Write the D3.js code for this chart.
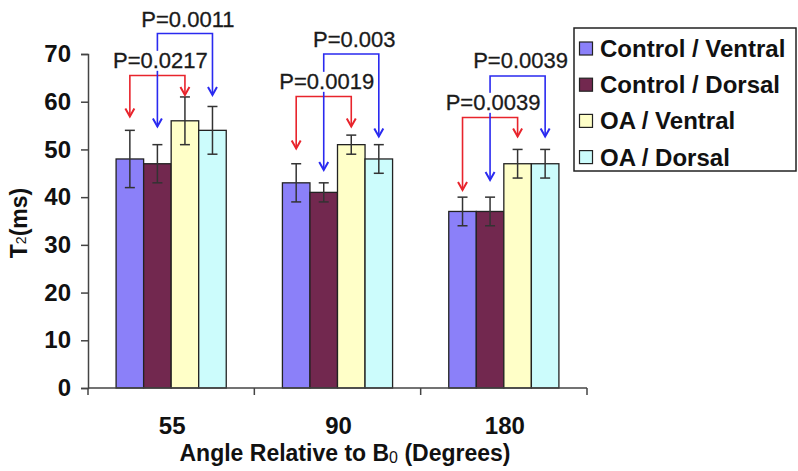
<!DOCTYPE html>
<html>
<head>
<meta charset="utf-8">
<script src="https://cdn.jsdelivr.net/npm/d3@7"></script>
<style>
  body { margin: 0; background: #fff; }
  svg { display: block; font-family: "Liberation Sans", Arial, sans-serif; }
</style>
</head>
<body>
<svg id="chart" width="798" height="471"></svg>
<script>
var width = 798;
var height = 471;

// data
var angles = ["55", "90", "180"];
var series = ["Control / Ventral", "Control / Dorsal", "OA / Ventral", "OA / Dorsal"];
var colors = ["#8b80f9", "#72284f", "#ffffc8", "#ccfcfc"];
var means = [
  [48, 47, 56, 54],
  [43, 41, 51, 48],
  [37, 37, 47, 47]
];
var errs = [
  [6, 4, 5, 5],
  [4, 2, 2, 3],
  [3, 3, 3, 3]
];
var yTicks = [0, 10, 20, 30, 40, 50, 60, 70];

// significance brackets: angle, from series, to series, bracket level, arrow tips, label level (in T2 units)
var pAngle = ["55", "55", "90", "90", "180", "180"];
var pFrom = [0, 1, 0, 1, 0, 1];
var pTo = [2, 3, 2, 3, 2, 3];
var pLevel = [65.5, 74.3, 61.1, 70, 56.7, 65.4];
var pTipFrom = [56.9, 54.8, 50.2, 45.7, 41.5, 43.6];
var pTipTo = [61.4, 61.4, 54.8, 52.7, 52.7, 52.7];
var pLabelLevel = [67.1, 75.7, 62.7, 71.5, 58.3, 67];
var pText = ["P=0.0217", "P=0.0011", "P=0.0019", "P=0.003", "P=0.0039", "P=0.0039"];
var pColor = ["#e8242c", "#2a2af0", "#e8242c", "#2a2af0", "#e8242c", "#2a2af0"];

var margin = { top: 54, right: 211, bottom: 83, left: 88 };

var svg = d3.select("#chart");

var x = d3.scaleBand()
  .domain(angles)
  .range([margin.left, width - margin.right]);

var xs = d3.scaleBand()
  .domain(d3.range(series.length))
  .range([0, x.bandwidth()])
  .paddingOuter(1.02);

var y = d3.scaleLinear()
  .domain([0, 70])
  .range([height - margin.bottom, margin.top]);

// y axis
var yAxis = svg.append("g")
  .attr("transform", "translate(" + margin.left + ",0)")
  .call(d3.axisLeft(y).tickValues(yTicks).tickSize(7).tickPadding(10));
yAxis.select(".domain").attr("stroke", "#444").attr("stroke-width", 1.5);
yAxis.selectAll(".tick line").attr("stroke", "#444").attr("stroke-width", 1.5);
yAxis.selectAll(".tick text")
  .attr("font-size", 24)
  .attr("font-weight", "bold")
  .attr("font-family", "Liberation Sans, Arial, sans-serif")
  .attr("fill", "#111");

// bars
var groups = svg.selectAll(".grp")
  .data(angles)
  .enter().append("g")
  .attr("class", "grp")
  .attr("transform", function(d) { return "translate(" + x(d) + ",0)"; });

groups.each(function(a, gi) {
  var g = d3.select(this);
  g.selectAll("rect")
    .data(means[gi])
    .enter().append("rect")
    .attr("x", function(d, i) { return xs(i); })
    .attr("y", function(d) { return y(d); })
    .attr("width", xs.bandwidth())
    .attr("height", function(d) { return y(0) - y(d); })
    .attr("fill", function(d, i) { return colors[i]; })
    .attr("stroke", "#222")
    .attr("stroke-width", 1.3);

  // error bars
  for (var i = 0; i < means[gi].length; i++) {
    var cx = xs(i) + xs.bandwidth() / 2;
    var hi = y(means[gi][i] + errs[gi][i]);
    var lo = y(means[gi][i] - errs[gi][i]);
    var eb = g.append("g").attr("stroke", "#333").attr("stroke-width", 1.5);
    eb.append("line").attr("x1", cx).attr("x2", cx).attr("y1", hi).attr("y2", lo);
    eb.append("line").attr("x1", cx - 5).attr("x2", cx + 5).attr("y1", hi).attr("y2", hi);
    eb.append("line").attr("x1", cx - 5).attr("x2", cx + 5).attr("y1", lo).attr("y2", lo);
  }
});

// x axis
var xAxisY = y(0);
svg.append("line")
  .attr("x1", margin.left).attr("x2", width - margin.right)
  .attr("y1", xAxisY).attr("y2", xAxisY)
  .attr("stroke", "#444").attr("stroke-width", 1.5);
var bounds = angles.map(function(d) { return x(d); }).concat([x.range()[1]]);
svg.selectAll(".xtick")
  .data(bounds)
  .enter().append("line")
  .attr("class", "xtick")
  .attr("x1", function(d) { return d; }).attr("x2", function(d) { return d; })
  .attr("y1", xAxisY).attr("y2", xAxisY + 7)
  .attr("stroke", "#444").attr("stroke-width", 1.5);
svg.selectAll(".xlab")
  .data(angles)
  .enter().append("text")
  .attr("class", "xlab")
  .attr("x", function(d) { return x(d) + x.bandwidth() / 2 + 1; })
  .attr("y", 434)
  .attr("text-anchor", "middle")
  .attr("font-size", 24)
  .attr("font-weight", "bold")
  .attr("fill", "#111")
  .text(function(d) { return d; });

// x title
var xt = svg.append("text")
  .attr("x", 345)
  .attr("y", 461)
  .attr("text-anchor", "middle")
  .attr("font-size", 23)
  .attr("font-weight", "bold")
  .attr("fill", "#111");
xt.append("tspan").text("Angle Relative to B");
xt.append("tspan").attr("font-size", 16).attr("font-weight", "normal").attr("dy", 2).text("0");
xt.append("tspan").attr("dy", -2).text(" (Degrees)");

// y title
var yt = svg.append("text")
  .attr("transform", "translate(27,223) rotate(-90)")
  .attr("text-anchor", "middle")
  .attr("font-size", 23)
  .attr("font-weight", "bold")
  .attr("fill", "#111");
yt.append("tspan").text("T");
yt.append("tspan").attr("font-size", 14).attr("font-weight", "normal").attr("dy", -1).text("2");
yt.append("tspan").attr("dy", 1).text("(ms)");

// significance brackets
var ann = svg.append("g");
function arrowDown(g, px, tip, col) {
  g.append("path")
    .attr("d", "M" + (px - 4.5) + "," + (tip - 8) + "L" + px + "," + tip + "L" + (px + 4.5) + "," + (tip - 8))
    .attr("fill", "none")
    .attr("stroke", col)
    .attr("stroke-width", 2);
}
for (var k = 0; k < pText.length; k++) {
  var gx = x(pAngle[k]);
  var x1 = gx + xs(pFrom[k]) + xs.bandwidth() / 2;
  var x2 = gx + xs(pTo[k]) + xs.bandwidth() / 2;
  var ly = y(pLevel[k]);
  var a = ann.append("g").attr("class", "bracket");
  a.append("path")
    .attr("d", "M" + x1 + "," + y(pTipFrom[k]) + "V" + ly + "H" + x2 + "V" + y(pTipTo[k]))
    .attr("fill", "none")
    .attr("stroke", pColor[k])
    .attr("stroke-width", 1.6);
  arrowDown(a, x1, y(pTipFrom[k]), pColor[k]);
  arrowDown(a, x2, y(pTipTo[k]), pColor[k]);
}
// labels on white boxes, drawn over the lines
for (var k = 0; k < pText.length; k++) {
  var gx = x(pAngle[k]);
  var x1 = gx + xs(pFrom[k]) + xs.bandwidth() / 2;
  var x2 = gx + xs(pTo[k]) + xs.bandwidth() / 2;
  var cx = (x1 + x2) / 2 + 3;
  var by = y(pLabelLevel[k]);
  var t = ann.append("text")
    .attr("x", cx)
    .attr("y", by)
    .attr("text-anchor", "middle")
    .attr("font-size", 22)
    .attr("fill", "#1a1a1a")
    .attr("stroke", "#1a1a1a")
    .attr("stroke-width", 0.3)
    .text(pText[k]);
  var bb = t.node().getBBox();
  ann.insert("rect", function() { return t.node(); })
    .attr("x", bb.x - 1)
    .attr("y", by - 17)
    .attr("width", bb.width + 2)
    .attr("height", 20)
    .attr("fill", "#fff");
}

// legend
var legend = svg.append("g").attr("transform", "translate(574,28)");
legend.append("rect")
  .attr("width", 222)
  .attr("height", 143)
  .attr("fill", "#fff")
  .attr("stroke", "#222")
  .attr("stroke-width", 1.5);
var items = legend.selectAll(".item")
  .data(series)
  .enter().append("g")
  .attr("class", "item")
  .attr("transform", function(d, i) { return "translate(0," + (20.5 + i * 36.2) + ")"; });
items.append("rect")
  .attr("x", 5.5)
  .attr("y", -6.5)
  .attr("width", 13)
  .attr("height", 13)
  .attr("fill", function(d, i) { return colors[i]; })
  .attr("stroke", "#222")
  .attr("stroke-width", 1.2);
items.append("text")
  .attr("x", 26)
  .attr("y", 8.5)
  .attr("font-size", 24)
  .attr("font-weight", "bold")
  .attr("fill", "#111")
  .text(function(d) { return d; });
</script>
</body>
</html>
